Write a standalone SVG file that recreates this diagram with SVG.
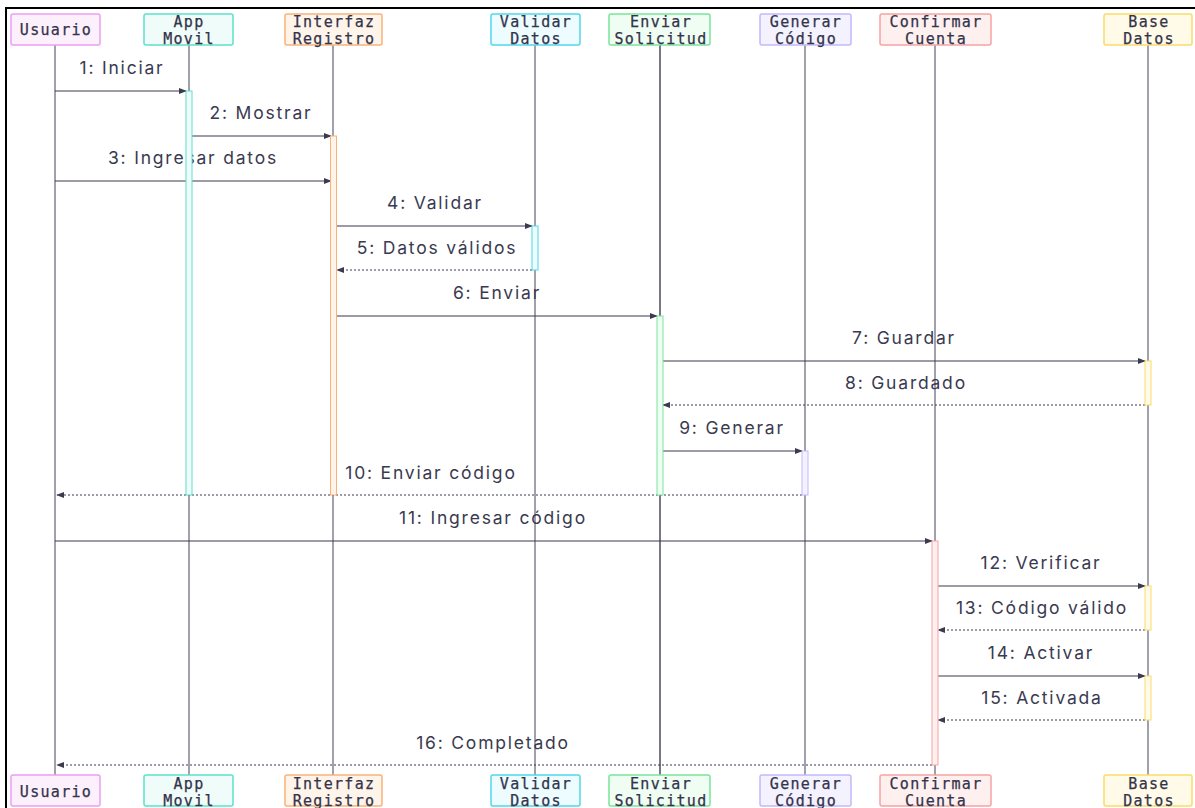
<svg xmlns="http://www.w3.org/2000/svg" width="1195" height="808" viewBox="0 0 1195 808">
<style>
.hdr{font-family:"DejaVu Sans Mono","Liberation Mono",monospace;font-size:15px;fill:#33334a;text-anchor:middle;letter-spacing:1.3px;stroke:#33334a;stroke-width:0.25}
.lbl{font-family:Inter,"Noto Sans",sans-serif;font-size:17.5px;fill:#3a3a50;text-anchor:middle;letter-spacing:1.8px}
.life{stroke:#8a8a98;stroke-width:1.6}
.msg{stroke:#3b3b4f;stroke-width:1.2;fill:none}
.ret{stroke:#3b3b4f;stroke-width:1.2;fill:none;stroke-dasharray:2,2}
</style>
<defs>
<marker id="ah" viewBox="0 0 10 10" refX="9" refY="5" markerWidth="8" markerHeight="8" markerUnits="userSpaceOnUse" orient="auto">
<path d="M0,1 L10,5 L0,9 z" fill="#3b3b4f"/>
</marker>
</defs>
<rect x="0" y="0" width="1195" height="808" fill="#ffffff"/>
<path d="M6,808 V8 H1195" fill="none" stroke="#000" stroke-width="2"/>

<g id="lifelines">
<line class="life" x1="55" y1="45" x2="55" y2="775"/>
<line class="life" x1="189" y1="45" x2="189" y2="775"/>
<line class="life" x1="333" y1="45" x2="333" y2="775"/>
<line class="life" x1="535" y1="45" x2="535" y2="775"/>
<line class="life" x1="660" y1="45" x2="660" y2="775" style="stroke:#55556a"/>
<line class="life" x1="805" y1="45" x2="805" y2="775"/>
<line class="life" x1="935" y1="45" x2="935" y2="775"/>
<line class="life" x1="1148" y1="45" x2="1148" y2="775"/>
</g>

<g id="connectors">
<line class="msg" x1="55" y1="91" x2="186" y2="91" marker-end="url(#ah)"/>
<line class="msg" x1="192" y1="136" x2="331" y2="136" marker-end="url(#ah)"/>
<line class="msg" x1="55" y1="181" x2="331" y2="181" marker-end="url(#ah)"/>
<line class="msg" x1="337" y1="226" x2="532" y2="226" marker-end="url(#ah)"/>
<line class="ret" x1="532" y1="270" x2="337" y2="270" marker-end="url(#ah)"/>
<line class="msg" x1="337" y1="316" x2="657" y2="316" marker-end="url(#ah)"/>
<line class="msg" x1="663" y1="361" x2="1145" y2="361" marker-end="url(#ah)"/>
<line class="ret" x1="1145" y1="405" x2="663" y2="405" marker-end="url(#ah)"/>
<line class="msg" x1="663" y1="451" x2="802" y2="451" marker-end="url(#ah)"/>
<line class="ret" x1="802" y1="495" x2="57" y2="495" marker-end="url(#ah)"/>
<line class="msg" x1="55" y1="541" x2="932" y2="541" marker-end="url(#ah)"/>
<line class="msg" x1="938" y1="586" x2="1145" y2="586" marker-end="url(#ah)"/>
<line class="ret" x1="1145" y1="630" x2="938" y2="630" marker-end="url(#ah)"/>
<line class="msg" x1="938" y1="676" x2="1145" y2="676" marker-end="url(#ah)"/>
<line class="ret" x1="1145" y1="720" x2="938" y2="720" marker-end="url(#ah)"/>
<line class="ret" x1="932" y1="765" x2="57" y2="765" marker-end="url(#ah)"/>
</g>

<g id="labels">
<text class="lbl" x="122" y="74">1: Iniciar</text>
<text class="lbl" x="261" y="119">2: Mostrar</text>
<text class="lbl" x="193" y="164">3: Ingresar datos</text>
<text class="lbl" x="435" y="209">4: Validar</text>
<text class="lbl" x="437" y="254">5: Datos válidos</text>
<text class="lbl" x="497" y="299">6: Enviar</text>
<text class="lbl" x="904" y="344">7: Guardar</text>
<text class="lbl" x="906" y="389">8: Guardado</text>
<text class="lbl" x="732" y="434">9: Generar</text>
<text class="lbl" x="431" y="479">10: Enviar código</text>
<text class="lbl" x="493" y="524">11: Ingresar código</text>
<text class="lbl" x="1041" y="569">12: Verificar</text>
<text class="lbl" x="1042" y="614">13: Código válido</text>
<text class="lbl" x="1041" y="659">14: Activar</text>
<text class="lbl" x="1042" y="704">15: Activada</text>
<text class="lbl" x="493" y="749">16: Completado</text>
</g>

<g id="activations">
<rect x="186" y="91" width="6" height="404" fill="#effcf9" stroke="#5ee0cc" stroke-width="1"/>
<rect x="330.5" y="136" width="6" height="359" fill="#fff4ea" stroke="#f9b27a" stroke-width="1"/>
<rect x="532" y="226" width="6" height="44" fill="#ecfcff" stroke="#52d6ea" stroke-width="1"/>
<rect x="657" y="316" width="6" height="179" fill="#effdf3" stroke="#7ae59a" stroke-width="1"/>
<rect x="1145" y="361" width="6" height="44" fill="#fffbe8" stroke="#f9dc6a" stroke-width="1"/>
<rect x="802" y="451" width="6" height="44" fill="#f4f2ff" stroke="#c4b8fb" stroke-width="1"/>
<rect x="932" y="541" width="6" height="224" fill="#fff0f0" stroke="#f7a3a3" stroke-width="1"/>
<rect x="1145" y="586" width="6" height="44" fill="#fffbe8" stroke="#f9dc6a" stroke-width="1"/>
<rect x="1145" y="676" width="6" height="44" fill="#fffbe8" stroke="#f9dc6a" stroke-width="1"/>
</g>

<g id="usuario">
<rect x="11" y="14" width="89" height="31" rx="2" fill="#fdf0fd" stroke="#e9a0f0" stroke-width="1.5"/>
<text class="hdr" x="56" y="35">Usuario</text>
<rect x="11" y="775" width="89" height="31" rx="2" fill="#fdf0fd" stroke="#e9a0f0" stroke-width="1.5"/>
<text class="hdr" x="56" y="797">Usuario</text>
</g>
<g id="app-movil">
<rect x="144" y="14" width="89" height="31" rx="2" fill="#effcf9" stroke="#5ee0cc" stroke-width="1.5"/>
<text class="hdr" x="189" y="26.5">App</text><text class="hdr" x="189" y="44">Movil</text>
<rect x="144" y="775" width="89" height="31" rx="2" fill="#effcf9" stroke="#5ee0cc" stroke-width="1.5"/>
<text class="hdr" x="189" y="788.5">App</text><text class="hdr" x="189" y="806">Movil</text>
</g>
<g id="interfaz-registro">
<rect x="285" y="14" width="97" height="31" rx="2" fill="#fff4ea" stroke="#f9b27a" stroke-width="1.5"/>
<text class="hdr" x="334" y="26.5">Interfaz</text><text class="hdr" x="334" y="44">Registro</text>
<rect x="285" y="775" width="97" height="31" rx="2" fill="#fff4ea" stroke="#f9b27a" stroke-width="1.5"/>
<text class="hdr" x="334" y="788.5">Interfaz</text><text class="hdr" x="334" y="806">Registro</text>
</g>
<g id="validar-datos">
<rect x="491" y="14" width="89" height="31" rx="2" fill="#ecfcff" stroke="#52d6ea" stroke-width="1.5"/>
<text class="hdr" x="536" y="26.5">Validar</text><text class="hdr" x="536" y="44">Datos</text>
<rect x="491" y="775" width="89" height="31" rx="2" fill="#ecfcff" stroke="#52d6ea" stroke-width="1.5"/>
<text class="hdr" x="536" y="788.5">Validar</text><text class="hdr" x="536" y="806">Datos</text>
</g>
<g id="enviar-solicitud">
<rect x="609" y="14" width="101" height="31" rx="2" fill="#effdf3" stroke="#7ae59a" stroke-width="1.5"/>
<text class="hdr" x="661" y="26.5">Enviar</text><text class="hdr" x="661" y="44">Solicitud</text>
<rect x="609" y="775" width="101" height="31" rx="2" fill="#effdf3" stroke="#7ae59a" stroke-width="1.5"/>
<text class="hdr" x="661" y="788.5">Enviar</text><text class="hdr" x="661" y="806">Solicitud</text>
</g>
<g id="generar-codigo">
<rect x="760" y="14" width="91" height="31" rx="2" fill="#f4f2ff" stroke="#c4b8fb" stroke-width="1.5"/>
<text class="hdr" x="806" y="26.5">Generar</text><text class="hdr" x="806" y="44">Código</text>
<rect x="760" y="775" width="91" height="31" rx="2" fill="#f4f2ff" stroke="#c4b8fb" stroke-width="1.5"/>
<text class="hdr" x="806" y="788.5">Generar</text><text class="hdr" x="806" y="806">Código</text>
</g>
<g id="confirmar-cuenta">
<rect x="880" y="14" width="111" height="31" rx="2" fill="#fff0f0" stroke="#f7a3a3" stroke-width="1.5"/>
<text class="hdr" x="936" y="26.5">Confirmar</text><text class="hdr" x="936" y="44">Cuenta</text>
<rect x="880" y="775" width="111" height="31" rx="2" fill="#fff0f0" stroke="#f7a3a3" stroke-width="1.5"/>
<text class="hdr" x="936" y="788.5">Confirmar</text><text class="hdr" x="936" y="806">Cuenta</text>
</g>
<g id="base-datos">
<rect x="1104" y="14" width="88" height="31" rx="2" fill="#fffbe8" stroke="#f9dc6a" stroke-width="1.5"/>
<text class="hdr" x="1149" y="26.5">Base</text><text class="hdr" x="1149" y="44">Datos</text>
<rect x="1104" y="775" width="88" height="31" rx="2" fill="#fffbe8" stroke="#f9dc6a" stroke-width="1.5"/>
<text class="hdr" x="1149" y="788.5">Base</text><text class="hdr" x="1149" y="806">Datos</text>
</g>
</svg>
